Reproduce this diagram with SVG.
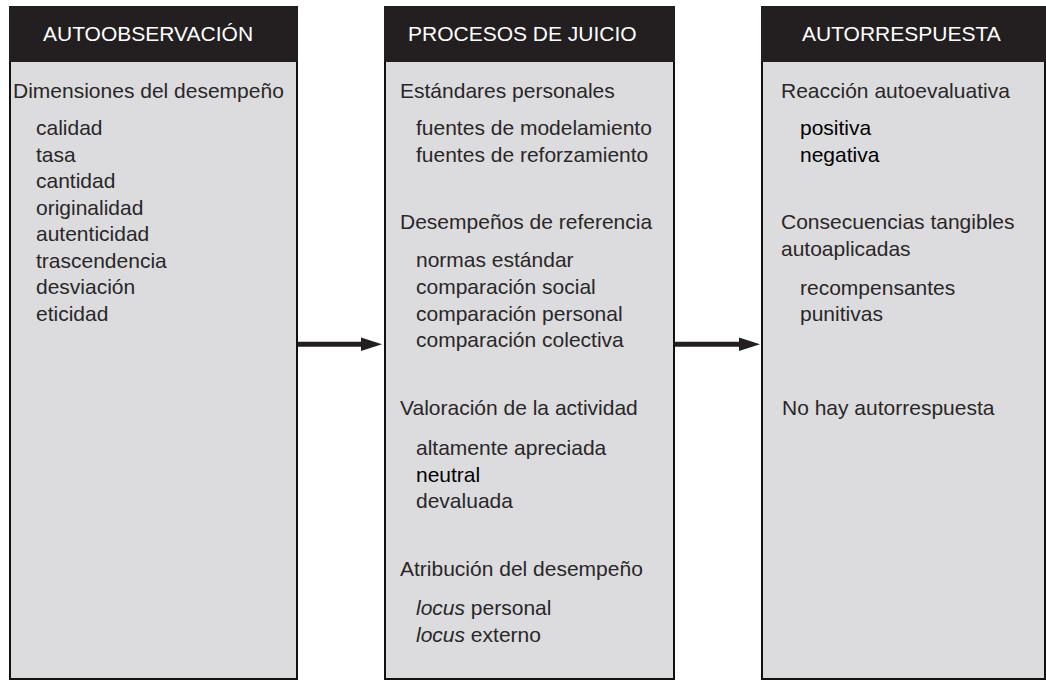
<svg xmlns="http://www.w3.org/2000/svg" width="1046" height="681" viewBox="0 0 1046 681">
<style>
.box{fill:#dcdcde;stroke:#111;stroke-width:2}
.hdr{fill:#231f20}
.ht{font-family:"Liberation Sans",Arial,Helvetica,sans-serif;font-size:21px;fill:#ffffff}
.t{font-family:"Liberation Sans",Arial,Helvetica,sans-serif;font-size:21px;fill:#2a2728}
.k{fill:#000000}
.conn{stroke:#231f20;stroke-width:5;fill:none}
</style>
<defs>
<marker id="ah" markerUnits="userSpaceOnUse" markerWidth="21" markerHeight="14" refX="4" refY="7" orient="auto">
<path d="M0,0.3 L21,7 L0,13.7 z" fill="#231f20"/>
</marker>
</defs>
<rect width="1046" height="681" fill="#ffffff"/>
<g id="autoobservacion">
<rect class="box" x="10" y="7" width="287" height="672"/>
<rect class="hdr" x="9" y="6" width="289" height="56"/>
<text class="ht" x="43" y="41">AUTOOBSERVACIÓN</text>
<text class="t" x="13" y="98">Dimensiones del desempeño</text>
<text class="t" x="36" y="135">calidad</text>
<text class="t" x="36" y="161.5">tasa</text>
<text class="t" x="36" y="188">cantidad</text>
<text class="t" x="36" y="214.5">originalidad</text>
<text class="t" x="36" y="241">autenticidad</text>
<text class="t" x="36" y="267.5">trascendencia</text>
<text class="t" x="36" y="294">desviación</text>
<text class="t" x="36" y="320.5">eticidad</text>
</g>
<g id="procesos-de-juicio">
<rect class="box" x="385" y="7" width="289" height="672"/>
<rect class="hdr" x="384" y="6" width="291" height="56"/>
<text class="ht" x="408" y="41">PROCESOS DE JUICIO</text>
<text class="t" x="400" y="98">Estándares personales</text>
<text class="t" x="416" y="135">fuentes de modelamiento</text>
<text class="t" x="416" y="161.5">fuentes de reforzamiento</text>
<text class="t" x="400" y="229">Desempeños de referencia</text>
<text class="t" x="416" y="267">normas estándar</text>
<text class="t" x="416" y="294">comparación social</text>
<text class="t" x="416" y="320.5">comparación personal</text>
<text class="t" x="416" y="347">comparación colectiva</text>
<text class="t" x="400" y="415">Valoración de la actividad</text>
<text class="t" x="416" y="455">altamente apreciada</text>
<text class="t k" x="416" y="481.5">neutral</text>
<text class="t" x="416" y="507.5">devaluada</text>
<text class="t" x="400" y="576">Atribución del desempeño</text>
<text class="t" x="416" y="615"><tspan font-style="italic">locus</tspan> personal</text>
<text class="t" x="416" y="641.5"><tspan font-style="italic">locus</tspan> externo</text>
</g>
<g id="autorrespuesta">
<rect class="box" x="762" y="7" width="283" height="672"/>
<rect class="hdr" x="761" y="6" width="285" height="56"/>
<text class="ht" x="802" y="41">AUTORRESPUESTA</text>
<text class="t" x="781" y="98">Reacción autoevaluativa</text>
<text class="t k" x="800" y="135">positiva</text>
<text class="t k" x="800" y="161.5">negativa</text>
<text class="t" x="781" y="229">Consecuencias tangibles</text>
<text class="t" x="781" y="255.5">autoaplicadas</text>
<text class="t" x="800" y="295">recompensantes</text>
<text class="t" x="800" y="321">punitivas</text>
<text class="t" x="782" y="415">No hay autorrespuesta</text>
</g>
<g id="connectors">
<line class="conn" x1="298" y1="344.2" x2="365" y2="344.2" marker-end="url(#ah)"/>
<line class="conn" x1="675" y1="344.2" x2="743" y2="344.2" marker-end="url(#ah)"/>
</g>
</svg>
